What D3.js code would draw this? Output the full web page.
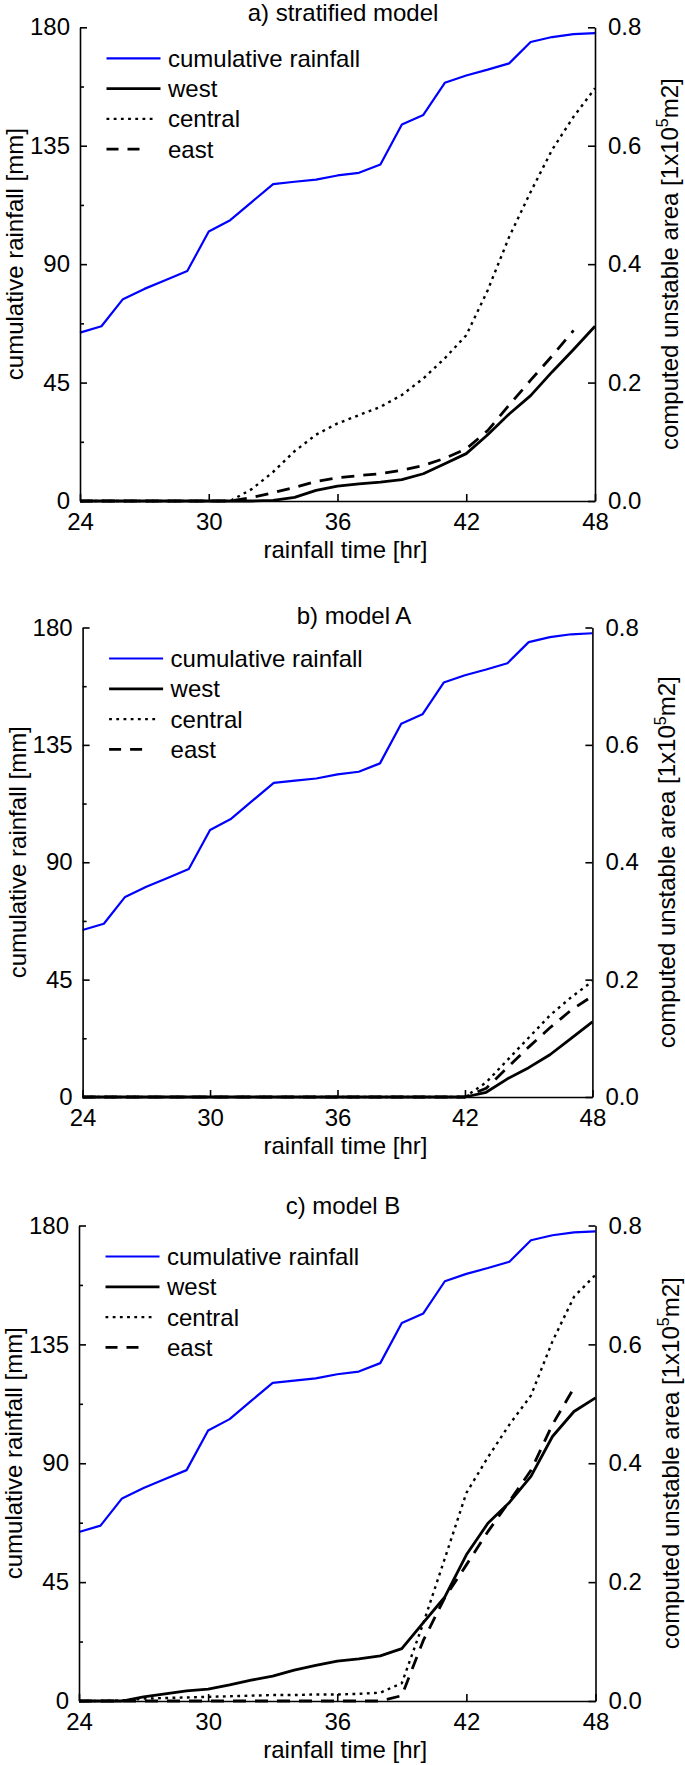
<!DOCTYPE html>
<html>
<head>
<meta charset="utf-8">
<script src="https://cdn.jsdelivr.net/npm/d3@7"></script>
<style>
  html, body { margin: 0; padding: 0; background: #fff; }
  svg { display: block; }
</style>
</head>
<body>
<svg id="chart" width="685" height="1765"></svg>
<script>
// ---------- data ----------
const hours = [24,25,26,27,28,29,30,31,32,33,34,35,36,37,38,39,40,41,42,43,44,45,46,47,48];
const rainfall = [64.0,66.4,76.7,80.6,84.0,87.4,102.4,106.7,113.6,120.4,121.3,122.1,123.7,124.7,127.9,143.1,146.7,158.9,161.7,163.9,166.3,174.4,176.3,177.4,177.8];

const panelTitles = ["a) stratified model", "b) model A", "c) model B"];
const seriesNames = ["cumulative rainfall", "west", "central", "east"];
const xTicks = [24,30,36,42,48];
const leftTicks = [0,45,90,135,180];
const leftMinorTicks = [22.5,67.5,112.5,157.5];
const rightTicks = [0,0.2,0.4,0.6,0.8];

// panel a) stratified model
const westA    = [0,0,0,0,0,0,0,0,0,0.001,0.006,0.018,0.025,0.029,0.032,0.036,0.046,0.063,0.080,0.112,0.147,0.178,0.218,0.256,0.295];
const centralA = [0,0,0,0,0,0,0,0,0.020,0.049,0.084,0.112,0.131,0.145,0.159,0.179,0.207,0.241,0.280,0.356,0.446,0.522,0.593,0.649,0.697];
const eastA    = [0,0,0,0,0,0,0,0,0.006,0.014,0.023,0.033,0.039,0.043,0.046,0.052,0.060,0.072,0.088,0.119,0.162,0.204,0.245,0.288,null];
// panel b) model A
const westB    = [0,0,0,0,0,0,0,0,0,0,0,0,0,0,0,0,0,0,0,0.008,0.031,0.050,0.072,0.100,0.128];
const centralB = [0,0,0,0,0,0,0,0,0,0,0,0,0,0,0,0,0,0,0,0.025,0.063,0.101,0.139,0.170,0.197];
const eastB    = [0,0,0,0,0,0,0,0,0,0,0,0,0,0,0,0,0,0,0,0.015,0.050,0.085,0.118,0.148,0.172];
// panel c) model B
const westC    = [0,0,0,0.007,0.012,0.017,0.020,0.027,0.035,0.042,0.052,0.060,0.067,0.071,0.076,0.088,0.132,0.175,0.246,0.299,0.334,0.378,0.445,0.487,0.510];
const centralC = [0,0,0.001,0.004,0.005,0.006,0.007,0.008,0.009,0.010,0.010,0.011,0.011,0.012,0.014,0.030,0.131,0.240,0.350,0.410,0.465,0.514,0.605,0.680,0.717];
const eastC    = [0,0,0,0,0,0,0,0,0,0,0,0,0,0,0,0.009,0.102,0.174,0.229,0.285,0.336,0.388,0.465,0.527,null];

// ---------- layout ----------
const panels = [
  {title: panelTitles[0], west: westA, central: centralA, east: eastA, left: 80,   right: 595,   top: 27.3,  bottom: 501,  titleX: 343, titleY: 21},
  {title: panelTitles[1], west: westB, central: centralB, east: eastB, left: 82.6, right: 592.4, top: 627.5, bottom: 1097, titleX: 354, titleY: 624},
  {title: panelTitles[2], west: westC, central: centralC, east: eastC, left: 79,   right: 595.5, top: 1225.5,bottom: 1701, titleX: 343, titleY: 1214}
];

const FONT = "'Liberation Sans', Arial, Helvetica, sans-serif";
const FS = 24;
const BLUE = "#0000ff";

const svg = d3.select("#chart");

function styleAxis(g) {
  g.attr("font-family", FONT).attr("font-size", FS);
  g.selectAll("path.domain").attr("stroke", "#000").attr("stroke-width", 1.6);
  g.selectAll(".tick line").attr("stroke", "#000").attr("stroke-width", 1.6);
  g.selectAll(".tick text").attr("fill", "#000");
}

panels.forEach(p => {
  const x = d3.scaleLinear().domain([24, 48]).range([p.left, p.right]);
  const yL = d3.scaleLinear().domain([0, 180]).range([p.bottom, p.top]);
  const yR = d3.scaleLinear().domain([0, 0.8]).range([p.bottom, p.top]);
  const g = svg.append("g");

  // title
  g.append("text").attr("x", p.titleX).attr("y", p.titleY)
    .attr("text-anchor", "middle").attr("font-family", FONT).attr("font-size", FS)
    .text(p.title);

  // data lines
  const lineL = d3.line().x((d, i) => x(hours[i])).y(d => yL(d));
  const lineR = d3.line().defined(d => d !== null).x((d, i) => x(hours[i])).y(d => yR(d));

  g.append("path").datum(rainfall).attr("d", lineL)
    .attr("fill", "none").attr("stroke", BLUE).attr("stroke-width", 2.2).attr("stroke-linejoin", "round");
  g.append("path").datum(p.central).attr("d", lineR)
    .attr("fill", "none").attr("stroke", "#000").attr("stroke-width", 2.4).attr("stroke-dasharray", "2.8,4.4");
  g.append("path").datum(p.east).attr("d", lineR)
    .attr("fill", "none").attr("stroke", "#000").attr("stroke-width", 2.8).attr("stroke-dasharray", "13,9");
  g.append("path").datum(p.west).attr("d", lineR)
    .attr("fill", "none").attr("stroke", "#000").attr("stroke-width", 2.8).attr("stroke-linejoin", "round");

  // axes
  const ax = g.append("g").attr("transform", `translate(0,${p.bottom})`)
    .call(d3.axisBottom(x).tickValues(xTicks).tickSizeInner(-7).tickSizeOuter(0).tickPadding(12));
  styleAxis(ax);

  const al = g.append("g").attr("transform", `translate(${p.left},0)`)
    .call(d3.axisLeft(yL).tickValues(leftTicks).tickSizeInner(-7).tickSizeOuter(0).tickPadding(10));
  styleAxis(al);
  const alm = g.append("g").attr("transform", `translate(${p.left},0)`)
    .call(d3.axisLeft(yL).tickValues(leftMinorTicks).tickSizeInner(-4).tickSizeOuter(0).tickFormat(""));
  styleAxis(alm);
  alm.select("path.domain").remove();

  const ar = g.append("g").attr("transform", `translate(${p.right},0)`)
    .call(d3.axisRight(yR).tickValues(rightTicks).tickSizeInner(-7).tickSizeOuter(0).tickPadding(13).tickFormat(d3.format(".1f")));
  styleAxis(ar);

  // axis titles
  g.append("text").attr("x", (p.left + p.right) / 2 + 8).attr("y", p.bottom + 57)
    .attr("text-anchor", "middle").attr("font-family", FONT).attr("font-size", FS)
    .text("rainfall time [hr]");

  const cy = (p.top + p.bottom) / 2;
  g.append("text")
    .attr("transform", `translate(${p.left - 57},${cy - 10}) rotate(-90)`)
    .attr("text-anchor", "middle")
    .attr("font-family", FONT).attr("font-size", FS)
    .text("cumulative rainfall [mm]");

  const rt = g.append("text")
    .attr("transform", `translate(${p.right + 83},${cy}) rotate(-90)`)
    .attr("text-anchor", "middle")
    .attr("font-family", FONT).attr("font-size", FS);
  rt.append("tspan").text("computed unstable area [1x10");
  rt.append("tspan").attr("font-size", 16).attr("dy", "-0.6em").text("5");
  rt.append("tspan").attr("dy", "0.4em").text("m2]");

  // legend
  const lx0 = p.left + 26.5, tx = p.left + 88;
  const styles = [
    {stroke: BLUE, w: 2.2, dash: null, len: 54},
    {stroke: "#000", w: 2.8, dash: null, len: 54},
    {stroke: "#000", w: 2.4, dash: "2.8,4.4", len: 50},
    {stroke: "#000", w: 2.8, dash: "12,9", len: 33}
  ];
  seriesNames.forEach((name, i) => {
    const ly = p.top + 31 + i * 30.3;
    const s = styles[i];
    const ln = g.append("line").attr("x1", lx0).attr("x2", lx0 + s.len).attr("y1", ly).attr("y2", ly)
      .attr("stroke", s.stroke).attr("stroke-width", s.w);
    if (s.dash) ln.attr("stroke-dasharray", s.dash);
    g.append("text").attr("x", tx).attr("y", ly).attr("dy", "0.35em")
      .attr("font-family", FONT).attr("font-size", FS).text(name);
  });
});
</script>
</body>
</html>
